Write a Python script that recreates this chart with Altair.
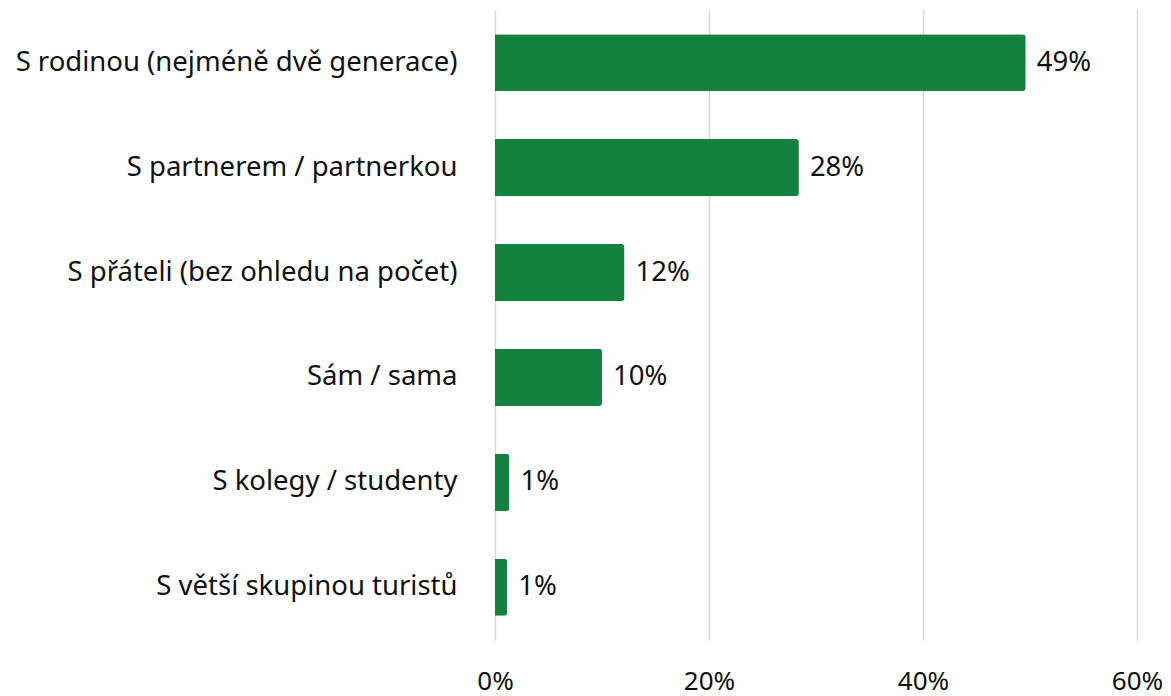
import altair as alt
import pandas as pd

categories = [
    "S rodinou (nejméně dvě generace)",
    "S partnerem / partnerkou",
    "S přáteli (bez ohledu na počet)",
    "Sám / sama",
    "S kolegy / studenty",
    "S větší skupinou turistů",
]
values = [49.6, 28.4, 12.1, 10.0, 1.35, 1.15]
labels = ["49%", "28%", "12%", "10%", "1%", "1%"]

df = pd.DataFrame({"cat": categories, "val": values, "lab": labels})

FONT = "Noto Sans"
GREEN = "#138140"
TXT = "#111111"
FS = 27.5

y = alt.Y(
    "cat:N",
    sort=categories,
    scale=alt.Scale(paddingInner=0.455, paddingOuter=0.23),
    axis=alt.Axis(
        title=None, domain=False, ticks=False, grid=False,
        labelFont=FONT, labelFontSize=FS, labelColor=TXT,
        labelPadding=38, labelLimit=600,
    ),
)
x = alt.X(
    "val:Q",
    scale=alt.Scale(domain=[0, 60], nice=False),
    axis=alt.Axis(
        title=None, values=[0, 20, 40, 60], format=".0f",
        labelExpr="datum.value + '%'",
        domain=False, ticks=False, grid=True,
        gridColor="#d9d9d9", gridWidth=1.5,
        labelFont=FONT, labelFontSize=26, labelColor=TXT,
        labelPadding=28, labelFlush=False,
    ),
)

bars = alt.Chart(df).mark_bar(color=GREEN, cornerRadiusEnd=3).encode(x=x, y=y)
text = alt.Chart(df).mark_text(
    align="left", baseline="middle", dx=11, font=FONT, fontSize=FS, color=TXT
).encode(x="val:Q", y=alt.Y("cat:N", sort=categories), text="lab:N")

chart = (bars + text).properties(
    width=642, height=630,
    autosize=alt.AutoSizeParams(type="none"),
    padding={"left": 487, "top": 2, "right": 26, "bottom": 56},
).configure_view(stroke=None)

chart.save("out.html", embed_options={"renderer": "svg", "actions": False})
